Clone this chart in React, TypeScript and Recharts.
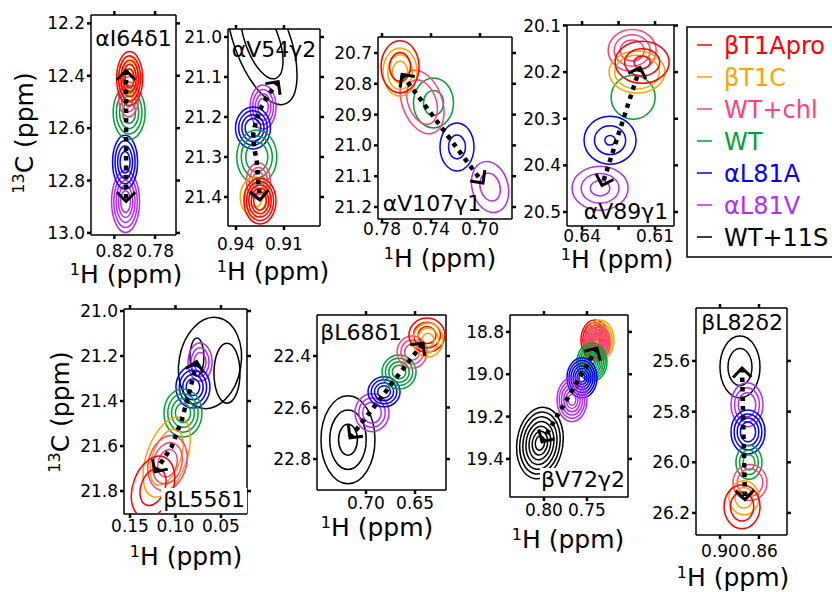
import React from 'react';
import { ScatterChart, Scatter, XAxis, YAxis } from 'recharts';

const FONT = '"DejaVu Sans", "Liberation Sans", Arial, sans-serif';

const SERIES = ['βT1Apro', 'βT1C', 'WT+chl', 'WT', 'αL81A', 'αL81V', 'WT+11S'];
const COLORS: Record<string, string> = {
  'βT1Apro': '#ff0000',
  'βT1C': '#ffa200',
  'WT+chl': '#ff3f80',
  'WT': '#00a032',
  'αL81A': '#0000ff',
  'αL81V': '#b42cf5',
  'WT+11S': '#000000',
};

// ---- αI64δ1
const P1_NAMES = ['αL81V', 'αL81A', 'WT', 'WT+chl', 'βT1C', 'βT1Apro'];
const P1_H = [0.809, 0.8095, 0.8055, 0.806, 0.806, 0.805];
const P1_C = [12.88, 12.73, 12.54, 12.48, 12.41, 12.41];
const P1_ARROW_H = [0.8085, 0.8085];
const P1_ARROW_C = [12.38, 12.88];
const P1_XTICKS = [0.82, 0.78];
const P1_YTICKS = [12.2, 12.4, 12.6, 12.8, 13.0];

// ---- αV54γ2
const P2_NAMES = ['WT+11S', 'αL81V', 'αL81A', 'WT', 'WT+chl', 'βT1C', 'βT1Apro'];
const P2_H = [0.9238, 0.9231, 0.9294, 0.927, 0.926, 0.928, 0.925];
const P2_C = [21.0075, 21.175, 21.2275, 21.3, 21.36, 21.4, 21.41];
const P2_ARROW_H = [0.9136, 0.9198, 0.924, 0.9271, 0.9292, 0.9288, 0.9271, 0.926, 0.925];
const P2_ARROW_C = [21.112, 21.145, 21.174, 21.203, 21.241, 21.274, 21.3075, 21.366, 21.4075];
const P2_XTICKS = [0.94, 0.91];
const P2_YTICKS = [21.0, 21.1, 21.2, 21.3, 21.4];

// ---- αV107γ1
const P3_NAMES = ['αL81V', 'αL81A', 'WT', 'WT+chl', 'βT1C', 'βT1Apro'];
const P3_H = [0.6918, 0.7188, 0.738, 0.7473, 0.7653, 0.7653];
const P3_C = [21.135, 21.005, 20.862, 20.859, 20.762, 20.745];
const P3_ARROW_H = [0.7637, 0.6976];
const P3_ARROW_C = [20.77, 21.122];
const P3_XTICKS = [0.78, 0.74, 0.7];
const P3_YTICKS = [20.7, 20.8, 20.9, 21.0, 21.1, 21.2];

// ---- αV89γ1
const P4_NAMES = ['αL81V', 'αL81A', 'WT', 'WT+chl', 'βT1C', 'βT1Apro'];
const P4_H = [0.6326, 0.6285, 0.619, 0.6194, 0.6174, 0.6153];
const P4_C = [20.449, 20.346, 20.254, 20.1535, 20.2, 20.179];
const P4_ARROW_H = [0.6162, 0.6318];
const P4_ARROW_C = [20.19, 20.443];
const P4_XTICKS = [0.64, 0.625, 0.61];
const P4_YTICKS = [20.1, 20.2, 20.3, 20.4, 20.5];

// ---- βL55δ1
const P5_NAMES = ['WT+11S', 'WT+11S', 'WT+11S', 'αL81V', 'αL81A', 'WT', 'βT1C', 'WT+chl', 'βT1Apro'];
const P5_H = [0.0621, 0.0764, 0.0434, 0.073, 0.0808, 0.0918, 0.1097, 0.1088, 0.1247];
const P5_C = [21.231, 21.204, 21.276, 21.227, 21.338, 21.453, 21.649, 21.676, 21.782];
const P5_ARROW_H = [0.0767, 0.0841, 0.0932, 0.1042, 0.1225];
const P5_ARROW_C = [21.225, 21.351, 21.484, 21.603, 21.714];
const P5_XTICKS = [0.15, 0.1, 0.05];
const P5_YTICKS = [21.0, 21.2, 21.4, 21.6, 21.8];

// ---- βL68δ1
const P6_NAMES = ['WT+11S', 'αL81V', 'αL81A', 'WT', 'WT+chl', 'βT1Apro', 'βT1C'];
const P6_H = [0.7184, 0.6939, 0.6816, 0.6663, 0.653, 0.6378, 0.6367];
const P6_C = [22.725, 22.62, 22.539, 22.462, 22.385, 22.319, 22.338];
const P6_ARROW_H = [0.7163, 0.6418];
const P6_ARROW_C = [22.718, 22.35];
const P6_XTICKS = [0.7, 0.65];
const P6_YTICKS = [22.4, 22.6, 22.8];

// ---- βV72γ2
const P7_NAMES = ['WT+11S', 'βT1Apro', 'βT1C', 'WT+chl', 'WT', 'αL81A', 'αL81V'];
const P7_H = [0.8047, 0.7407, 0.7349, 0.7384, 0.7442, 0.7558, 0.7674];
const P7_C = [19.325, 18.838, 18.838, 18.852, 18.942, 19.017, 19.12];
const P7_ARROW_H = [0.8023, 0.7384];
const P7_ARROW_C = [19.32, 18.876];
const P7_XTICKS = [0.8, 0.75];
const P7_YTICKS = [18.8, 19.0, 19.2, 19.4];

// ---- βL82δ2
const P8_NAMES = ['WT+11S', 'αL81V', 'αL81A', 'WT', 'WT+chl', 'βT1C', 'βT1Apro'];
const P8_H = [0.8795, 0.8723, 0.8713, 0.8703, 0.8692, 0.8754, 0.8774];
const P8_C = [25.624, 25.773, 25.88, 26.0, 26.08, 26.14, 26.175];
const P8_ARROW_H = [0.8774, 0.8744];
const P8_ARROW_C = [25.628, 26.147];
const P8_XTICKS = [0.9, 0.86];
const P8_YTICKS = [25.6, 25.8, 26.0, 26.2];

// contour look per peak: [rx px, ry px, rotation deg, rings, innermost fraction]
type Look = [number, number, number, number, number];

const fmt2 = (v: number) => v.toFixed(2);
const fmt1 = (v: number) => v.toFixed(1);

const PANELS = [
  {
    names: P1_NAMES, h: P1_H, c: P1_C, ah: P1_ARROW_H, ac: P1_ARROW_C, xt: P1_XTICKS, yt: P1_YTICKS,
    box: { x: 91, y: 15, w: 85, h: 220 }, xd: [0.7594, 0.843], yd: [12.168, 13.008], gap: 6,
    looks: [[14, 31, 0, 5, 0.35], [12.5, 27, 0, 4, 0.4], [16, 27, 0, 4, 0.4], [10, 20, 0, 3, 0.5], [10, 22, 0, 3, 0.45], [13, 27, 0, 5, 0.35]] as Look[],
    label: { text: 'αI64δ1', x: 133.5, y: 46, bg: false }, title: { x: 126, y: 283 }, xf: fmt2,
  },
  {
    names: P2_NAMES, h: P2_H, c: P2_C, ah: P2_ARROW_H, ac: P2_ARROW_C, xt: P2_XTICKS, yt: P2_YTICKS,
    box: { x: 228, y: 29, w: 92, h: 197 }, xd: [0.8875, 0.945], yd: [20.98, 21.4725], gap: 8,
    looks: [[28, 68, -20, 2, 0.6], [13, 22, 0, 4, 0.4], [17.5, 21, 0, 4, 0.45], [20, 27, 0, 3, 0.55], [12, 18, 0, 3, 0.5], [15, 20, 0, 3, 0.5], [16, 23, 0, 5, 0.4]] as Look[],
    label: { text: 'αV54γ2', x: 274, y: 57, bg: false }, title: { x: 273, y: 280 }, xf: fmt2,
  },
  {
    names: P3_NAMES, h: P3_H, c: P3_C, ah: P3_ARROW_H, ac: P3_ARROW_C, xt: P3_XTICKS, yt: P3_YTICKS,
    box: { x: 378, y: 37, w: 134, h: 182 }, xd: [0.6739, 0.7833], yd: [20.648, 21.239], gap: 0,
    looks: [[18, 26, -15, 2, 0.55], [17, 24, 0, 2, 0.5], [20, 25, 0, 2, 0.5], [20, 33, -20, 2, 0.7], [17, 24, 0, 3, 0.45], [19, 26, 0, 2, 0.55]] as Look[],
    label: { text: 'αV107γ1', x: 432, y: 211, bg: false }, title: { x: 440, y: 267 }, xf: fmt2,
  },
  {
    names: P4_NAMES, h: P4_H, c: P4_C, ah: P4_ARROW_H, ac: P4_ARROW_C, xt: P4_XTICKS, yt: P4_YTICKS,
    box: { x: 567, y: 25, w: 107, h: 201 }, xd: [0.6022, 0.6462], yd: [20.099, 20.53], gap: 0,
    looks: [[28, 22, 0, 3, 0.35], [26, 24, 0, 3, 0.2], [22, 22, 0, 1, 1], [24, 21, 0, 3, 0.5], [28, 21, 0, 2, 0.8], [27, 21, 0, 3, 0.3]] as Look[],
    label: { text: 'αV89γ1', x: 626, y: 219, bg: false }, title: { x: 617, y: 268 },
    xf: (v: number) => (Math.abs(v - 0.625) < 1e-6 ? '' : v.toFixed(2)),
  },
  {
    names: P5_NAMES, h: P5_H, c: P5_C, ah: P5_ARROW_H, ac: P5_ARROW_C, xt: P5_XTICKS, yt: P5_YTICKS,
    box: { x: 124, y: 309, w: 123, h: 205 }, xd: [0.0214, 0.1566], yd: [20.991, 21.902], gap: 2,
    looks: [[31, 46, 10, 1, 1], [7, 19, 0, 1, 1], [13, 30, 0, 1, 1], [12, 19, 0, 3, 0.5], [17, 21, 0, 4, 0.4], [19, 24, 0, 4, 0.4], [20, 42, 20, 2, 0.7], [19, 28, 15, 3, 0.5], [20, 32, 20, 2, 0.6]] as Look[],
    label: { text: 'βL55δ1', x: 204, y: 507, bg: true }, title: { x: 186, y: 565 }, xf: fmt2,
  },
  {
    names: P6_NAMES, h: P6_H, c: P6_C, ah: P6_ARROW_H, ac: P6_ARROW_C, xt: P6_XTICKS, yt: P6_YTICKS,
    box: { x: 317, y: 315, w: 129, h: 175 }, xd: [0.6184, 0.75], yd: [22.241, 22.92], gap: 3,
    looks: [[27, 44, 0, 3, 0.35], [17, 19, 0, 3, 0.55], [16, 15, 0, 4, 0.4], [17, 17, 0, 4, 0.4], [15, 16, 0, 3, 0.5], [18, 17, 0, 3, 0.5], [15, 17, 0, 3, 0.4]] as Look[],
    label: { text: 'βL68δ1', x: 361, y: 340, bg: false }, title: { x: 377, y: 536 }, xf: fmt2,
  },
  {
    names: P7_NAMES, h: P7_H, c: P7_C, ah: P7_ARROW_H, ac: P7_ARROW_C, xt: P7_XTICKS, yt: P7_YTICKS,
    box: { x: 510, y: 315, w: 118, h: 182 }, xd: [0.7023, 0.8395], yd: [18.72, 19.58], gap: 3,
    looks: [[23, 36, 8, 7, 0.2], [14, 20, 0, 7, 0.2], [14, 20, 0, 7, 0.2], [13, 18, 0, 7, 0.2], [15, 19, 0, 8, 0.15], [15, 20, 0, 7, 0.2], [15, 22, 0, 6, 0.25]] as Look[],
    label: { text: 'βV72γ2', x: 583, y: 487, bg: true }, title: { x: 568, y: 548 }, xf: fmt2,
  },
  {
    names: P8_NAMES, h: P8_H, c: P8_C, ah: P8_ARROW_H, ac: P8_ARROW_C, xt: P8_XTICKS, yt: P8_YTICKS,
    box: { x: 696, y: 308, w: 91, h: 227 }, xd: [0.8313, 0.9246], yd: [25.391, 26.287], gap: 6,
    looks: [[20, 31, 0, 2, 0.6], [16, 22, 0, 3, 0.55], [17, 22, 0, 4, 0.45], [13, 17, 0, 3, 0.45], [17, 18, 0, 2, 0.75], [15, 17, 0, 2, 0.6], [18, 22, 0, 2, 0.65]] as Look[],
    label: { text: 'βL82δ2', x: 742, y: 330, bg: false }, title: { x: 733, y: 586 }, xf: fmt2,
  },
];

const PAD_L = 60;
const PAD_R = 10;
const PAD_T = 10;
const PAD_B = 34;

function Contours({ cx, cy, look, color }: { cx: number; cy: number; look: Look; color: string }) {
  const [rx, ry, rot, n, minF] = look;
  const rings = [];
  for (let i = 0; i < n; i++) {
    const f = n === 1 ? 1 : 1 - (i * (1 - minF)) / (n - 1);
    rings.push(
      <ellipse key={i} cx={cx} cy={cy} rx={rx * f} ry={ry * f} fill="none" stroke={color} strokeWidth={1.5}
        transform={`rotate(${rot} ${cx} ${cy})`} />
    );
  }
  return <g>{rings}</g>;
}

function Chevron({ cx, cy, dx, dy }: { cx: number; cy: number; dx: number; dy: number }) {
  const a = Math.atan2(dy, dx);
  const L = 13;
  const b1 = a + Math.PI - Math.PI / 4;
  const b2 = a + Math.PI + Math.PI / 4;
  const d = `M${cx + L * Math.cos(b1)},${cy + L * Math.sin(b1)} L${cx},${cy} L${cx + L * Math.cos(b2)},${cy + L * Math.sin(b2)}`;
  return <path d={d} fill="none" stroke="#000" strokeWidth={3} />;
}

function Panel({ p }: { p: (typeof PANELS)[number] }) {
  const { box, xd, yd } = p;
  const W = box.w + PAD_L + PAD_R;
  const H = box.h + PAD_T + PAD_B;
  const kx = box.w / (xd[1] - xd[0]);
  const ky = box.h / (yd[1] - yd[0]);
  const arrow = p.ah.map((v, i) => ({ h: v, c: p.ac[i] }));
  const n = arrow.length;
  // outward direction in pixels (x reversed, y grows downward)
  const dir = (a: { h: number; c: number }, b: { h: number; c: number }) => ({
    dx: -(a.h - b.h) * kx,
    dy: (a.c - b.c) * ky,
  });
  const d0 = dir(arrow[0], arrow[1]);
  const d1 = dir(arrow[n - 1], arrow[n - 2]);

  const axisCommon = {
    type: 'number' as const,
    allowDataOverflow: true,
    stroke: '#000',
    axisLine: { strokeWidth: 1.5 },
    tickLine: { strokeWidth: 2.5 },
    tickSize: 4,
    interval: 0 as const,
  };
  const tickStyle = { fontSize: 17, fontFamily: FONT, fill: '#000' };

  return (
    <div style={{ position: 'absolute', left: box.x - PAD_L, top: box.y - PAD_T }}>
      <ScatterChart width={W} height={H} margin={{ top: 0, right: 0, bottom: 0, left: 0 }}>
        <XAxis {...axisCommon} xAxisId="b" dataKey="h" domain={xd} reversed ticks={p.xt} height={PAD_B}
          tickMargin={p.gap} tick={tickStyle} tickFormatter={p.xf} />
        <XAxis {...axisCommon} xAxisId="t" orientation="top" dataKey="h" domain={xd} reversed ticks={p.xt}
          height={PAD_T} tick={tickStyle} tickFormatter={() => ''} />
        <YAxis {...axisCommon} yAxisId="l" dataKey="c" domain={yd} reversed ticks={p.yt} width={PAD_L}
          tickMargin={2} tick={tickStyle} tickFormatter={fmt1} />
        <YAxis {...axisCommon} yAxisId="r" orientation="right" dataKey="c" domain={yd} reversed ticks={p.yt}
          width={PAD_R} tick={tickStyle} tickFormatter={() => ''} />
        {p.names.map((name, i) => (
          <Scatter key={`pk${i}`} xAxisId="b" yAxisId="l" name={name} data={[{ h: p.h[i], c: p.c[i] }]}
            isAnimationActive={false}
            shape={(s: any) => <Contours cx={s.cx} cy={s.cy} look={p.looks[i]} color={COLORS[name]} />} />
        ))}
        <Scatter xAxisId="b" yAxisId="l" data={arrow} isAnimationActive={false}
          line={{ stroke: '#000', strokeWidth: 4.5, strokeDasharray: '4.5 5' }} shape={() => <g />} />
        <Scatter xAxisId="b" yAxisId="l" data={[arrow[0]]} isAnimationActive={false}
          shape={(s: any) => <Chevron cx={s.cx} cy={s.cy} dx={d0.dx} dy={d0.dy} />} />
        <Scatter xAxisId="b" yAxisId="l" data={[arrow[n - 1]]} isAnimationActive={false}
          shape={(s: any) => <Chevron cx={s.cx} cy={s.cy} dx={d1.dx} dy={d1.dy} />} />
      </ScatterChart>
    </div>
  );
}

function AxisTitleH({ x, y }: { x: number; y: number }) {
  return (
    <text x={x} y={y} textAnchor="middle" fontSize={25} fontFamily={FONT} fill="#000">
      <tspan fontSize={16} dy={-8}>1</tspan>
      <tspan dy={8}>H (ppm)</tspan>
    </text>
  );
}

function AxisTitleC({ x, y }: { x: number; y: number }) {
  return (
    <text x={x} y={y} textAnchor="middle" fontSize={25} fontFamily={FONT} fill="#000" transform={`rotate(-90 ${x} ${y})`}>
      <tspan fontSize={16} dy={-9}>13</tspan>
      <tspan dy={9}>C (ppm)</tspan>
    </text>
  );
}

export default function App() {
  return (
    <div style={{ position: 'absolute', left: 0, top: 0, width: 832, height: 592, background: '#fff', overflow: 'hidden' }}>
      {PANELS.map((p, i) => (
        <Panel key={i} p={p} />
      ))}
      <svg width={832} height={592} style={{ position: 'absolute', left: 0, top: 0, pointerEvents: 'none' }}>
        {PANELS.map((p, i) => (
          <g key={i}>
            {p.label.bg && (
              <rect x={p.label.x - 43} y={p.label.y - 19} width={86} height={25} fill="#fff" />
            )}
            <text x={p.label.x} y={p.label.y} textAnchor="middle" fontSize={22} fontFamily={FONT} fill="#000">
              {p.label.text}
            </text>
            <AxisTitleH x={p.title.x} y={p.title.y} />
          </g>
        ))}
        <AxisTitleC x={33} y={133} />
        <AxisTitleC x={69} y={412} />
        <rect x={687} y={27} width={160} height={230} fill="none" stroke="#000" strokeWidth={1.5} />
        {SERIES.map((s, i) => (
          <g key={s}>
            <line x1={697} x2={712} y1={45 + i * 32} y2={45 + i * 32} stroke={COLORS[s]} strokeWidth={1.5} />
            <text x={724} y={45 + i * 32 + 8.5} fontSize={24} fontFamily={FONT} fill={COLORS[s]}>
              {s}
            </text>
          </g>
        ))}
      </svg>
    </div>
  );
}
